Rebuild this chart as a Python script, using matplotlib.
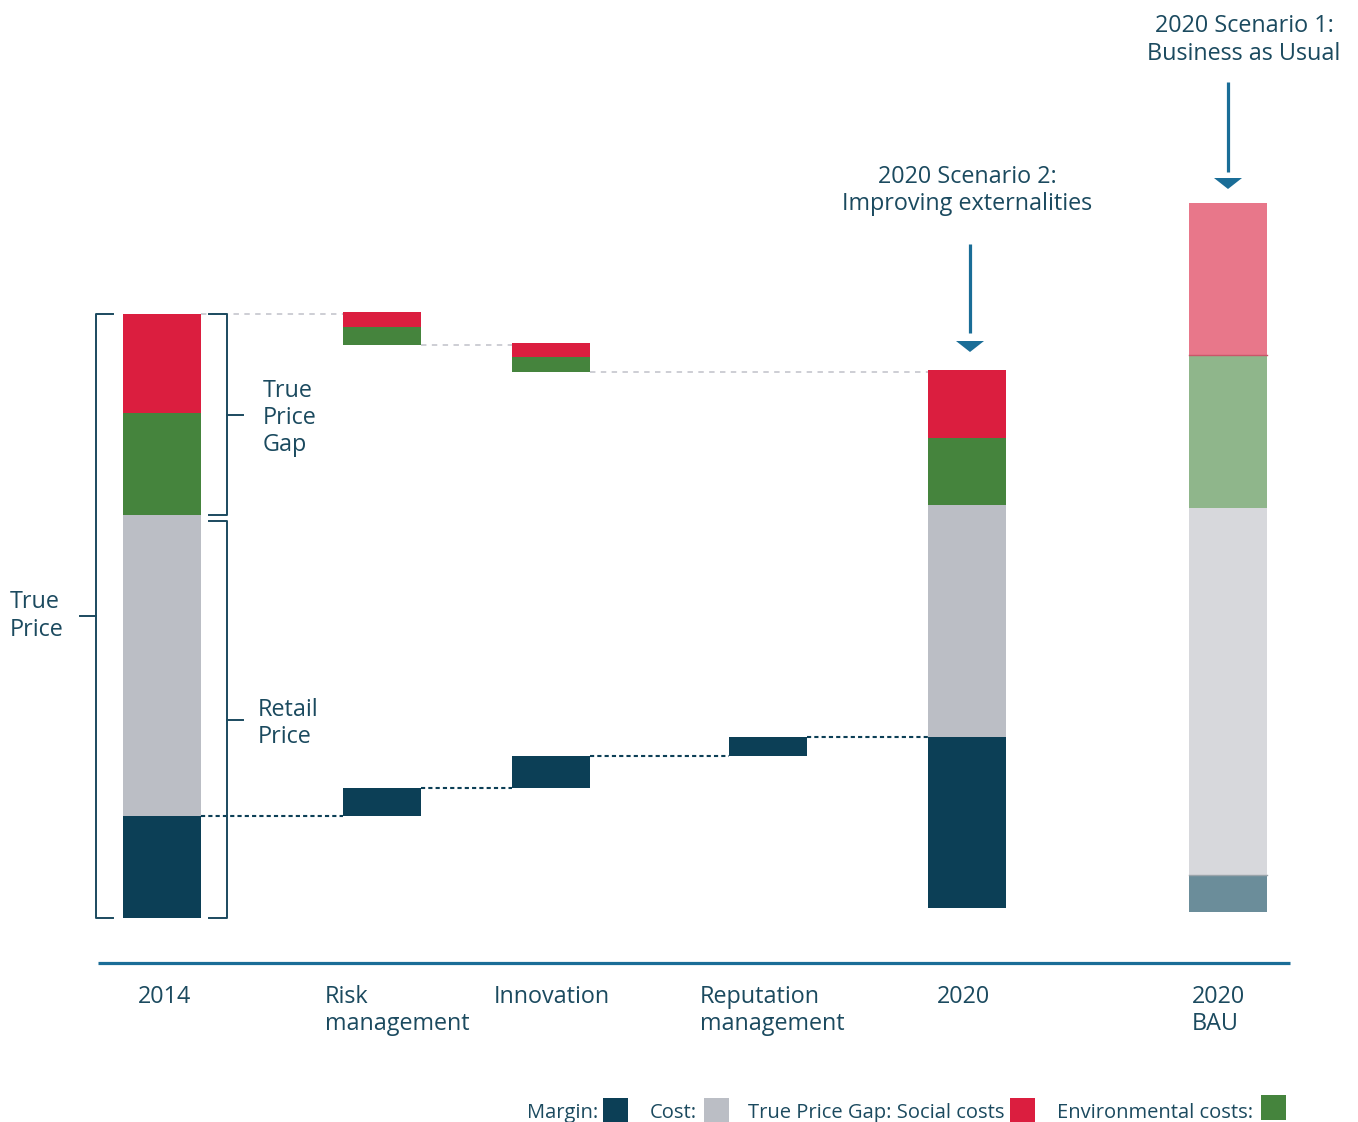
import matplotlib
matplotlib.use("Agg")
import matplotlib.pyplot as plt
from matplotlib.patches import Polygon, Rectangle

plt.rcParams['font.family'] = ['Open Sans', 'DejaVu Sans']

# ---------------- data (2014 true price = 100) -------------
categories = ["2014", "Risk\nmanagement", "Innovation", "Reputation\nmanagement", "2020", "2020\nBAU"]
margin_bottom = [0.0, 16.9, 21.5, 26.8, 1.7, 1.0]
margin = [16.9, 4.6, 5.3, 3.2, 28.3, 6.1]
cost = [49.8, 0.0, 0.0, 0.0, 38.4, 60.8]
env_bottom = [66.7, 94.9, 90.4, 0.0, 68.4, 67.9]
env = [16.9, 2.9, 2.5, 0.0, 11.1, 25.3]
social = [16.4, 2.5, 2.3, 0.0, 11.2, 25.2]
is_bau = [False, False, False, False, False, True]

legend_labels = ["Margin:", "Cost:", "True Price Gap: Social costs", "Environmental costs:"]

# ---------------- styling / layout ----------------
TXT = "#1b4a5f"
BLUE = "#1a6d97"
C_MARGIN, C_COST, C_SOC, C_ENV = "#0c3f56", "#bbbec5", "#db1e3f", "#45843d"
B_MARGIN, B_COST, B_SOC, B_ENV = "#6b8d9a", "#d7d8dc", "#e8778a", "#8fb68b"

xpos = [162, 382, 551, 768, 967, 1228]
label_x = [138, 325, 494, 700, 937, 1192]
W = 78
PX = 6.04  # pixels per value unit
LS = 1.17


def Y(py):
    return (918 - py) / PX


fig = plt.figure(figsize=(13.58, 11.22), dpi=100)
ax = fig.add_axes([0, 0, 1, 1])
ax.set_xlim(0, 1358)
ax.set_ylim(Y(1122), Y(0))
ax.axis("off")

FS = 16.8

# ---------------- bars ----------------
for i in range(len(categories)):
    cm, cc, cs, ce = (B_MARGIN, B_COST, B_SOC, B_ENV) if is_bau[i] else (C_MARGIN, C_COST, C_SOC, C_ENV)
    if margin[i] > 0:
        ax.bar(xpos[i], margin[i], W, bottom=margin_bottom[i], color=cm, linewidth=0)
    if cost[i] > 0:
        ax.bar(xpos[i], cost[i], W, bottom=margin_bottom[i] + margin[i], color=cc, linewidth=0)
    if env[i] > 0:
        ax.bar(xpos[i], env[i], W, bottom=env_bottom[i], color=ce, linewidth=0)
    if social[i] > 0:
        ax.bar(xpos[i], social[i], W, bottom=env_bottom[i] + env[i], color=cs, linewidth=0)
    if is_bau[i]:
        ax.plot([xpos[i] - W / 2, xpos[i] + W / 2], [env_bottom[i] + env[i]] * 2, color="#c9566a", lw=1)
        ax.plot([xpos[i] - W / 2, xpos[i] + W / 2], [margin_bottom[i] + margin[i]] * 2, color="#9aa4aa", lw=1)

# ---------------- connectors ----------------
gap_steps = [(0, 1), (1, 2), (2, 4)]
for a, b in gap_steps:
    ya = env_bottom[a] + env[a] + social[a] if a == 0 else env_bottom[a]
    ax.plot([xpos[a] + W / 2, xpos[b] - W / 2], [ya, ya], color="#c9cad1",
            lw=1.3, linestyle=(0, (3, 3)), zorder=0)
for a in range(4):
    ya = margin_bottom[a] + margin[a]
    ax.plot([xpos[a] + W / 2, xpos[a + 1] - W / 2], [ya, ya], color=C_MARGIN,
            lw=1.5, linestyle=(0, (2, 1.5)), zorder=0)

# ---------------- x axis line and labels ----------------
ax.plot([98, 1290], [Y(963), Y(963)], color=BLUE, lw=2.3, solid_capstyle="butt")
for i, lab in enumerate(categories):
    ax.text(label_x[i], Y(985), lab, ha="left", va="top", fontsize=FS, color=TXT,
            linespacing=LS)

# ---------------- brackets ----------------
top14 = env_bottom[0] + env[0] + social[0]
bot14 = margin_bottom[0]
cost_top14 = margin_bottom[0] + margin[0] + cost[0]
blw = 1.4
ax.plot([113, 96, 96, 113], [top14, top14, bot14, bot14], color=TXT, lw=blw)
ax.plot([80, 96], [(top14 + bot14) / 2] * 2, color=TXT, lw=blw)
ax.text(10, (top14 + bot14) / 2, "True\nPrice", ha="left", va="center", fontsize=FS,
        color=TXT, linespacing=LS)
ax.plot([209, 227, 227, 209], [top14, top14, cost_top14, cost_top14], color=TXT, lw=blw)
ax.plot([227, 243], [(top14 + cost_top14) / 2] * 2, color=TXT, lw=blw)
ax.text(263, (top14 + cost_top14) / 2 - 3 / PX, "True\nPrice\nGap", ha="left", va="center",
        fontsize=FS, color=TXT, linespacing=LS)
rp_top = cost_top14 - 1.0
ax.plot([209, 227, 227, 209], [rp_top, rp_top, bot14, bot14], color=TXT, lw=blw)
ax.plot([227, 243], [(rp_top + bot14) / 2] * 2, color=TXT, lw=blw)
ax.text(258, (rp_top + bot14) / 2 - 4 / PX, "Retail\nPrice", ha="left", va="center", fontsize=FS,
        color=TXT, linespacing=LS)


# ---------------- scenario annotations ----------------
def arrow(x, y_top_px, y_tip_px, lo_px):
    ax.plot([x, x], [Y(y_top_px), Y(lo_px)], color=BLUE, lw=2.3, solid_capstyle="butt")
    ax.add_patch(Polygon([[x - 14, Y(y_tip_px - 11)], [x + 14, Y(y_tip_px - 11)], [x, Y(y_tip_px)]],
                         closed=True, color=BLUE, lw=0))


arrow(970, 244, 352, 333)
ax.text(967, Y(190.5), "2020 Scenario 2:\nImproving externalities", ha="center", va="center",
        fontsize=FS, color=TXT, linespacing=LS)
arrow(1228, 82, 189, 172)
ax.text(1244, Y(40), "2020 Scenario 1:\nBusiness as Usual", ha="center", va="center",
        fontsize=FS, color=TXT, linespacing=LS)

# ---------------- legend ----------------
LFS = 14.5
leg_text_x = [527, 650, 748, 1057]
leg_sq_x = [603, 704, 1010, 1261]
leg_sq_top = [1098, 1098, 1098, 1095]
leg_cols = [C_MARGIN, C_COST, C_SOC, C_ENV]
for t, tx, sx, st, c in zip(legend_labels, leg_text_x, leg_sq_x, leg_sq_top, leg_cols):
    ax.text(tx, Y(1113), t, ha="left", va="center", fontsize=LFS, color=TXT)
    ax.add_patch(Rectangle((sx, Y(st + 25)), 25, 25 / PX, color=c, lw=0))

fig.savefig("out.png", dpi=100)
